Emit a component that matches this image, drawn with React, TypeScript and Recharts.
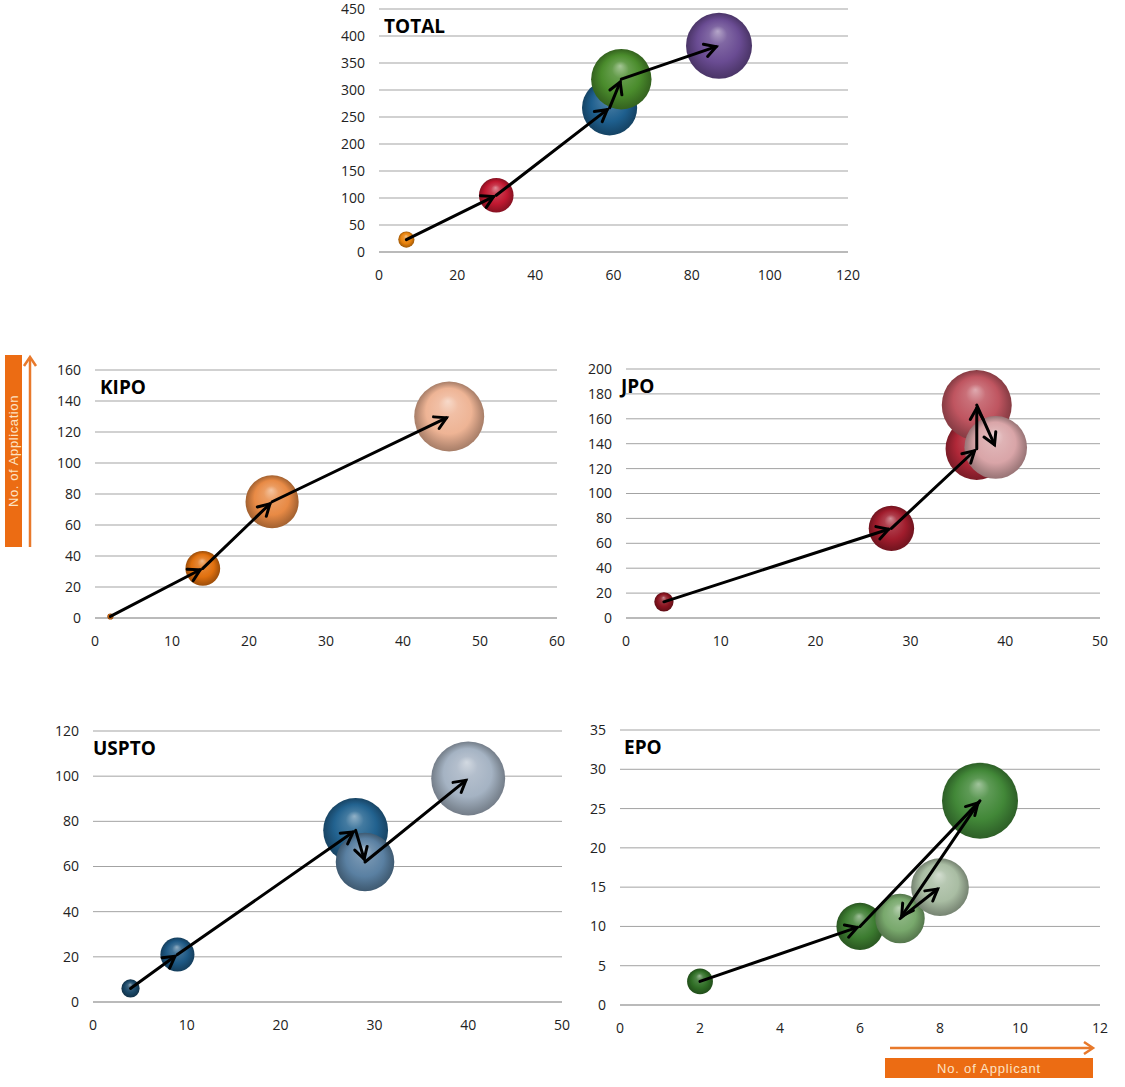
import React from 'react';
import { ScatterChart, Scatter, XAxis, YAxis, ZAxis, CartesianGrid, ReferenceLine, Cell } from 'recharts';

// values: x = No. of Applicant, y = No. of Application (bubble size = y)
const TOTAL_X = [7, 30, 59, 62, 87];
const TOTAL_Y = [23, 105, 267, 320, 382];
const KIPO_X = [2, 14, 23, 46];
const KIPO_Y = [1, 32, 75, 130];
const JPO_X = [4, 28, 37, 37, 39];
const JPO_Y = [13, 72, 136, 171, 137];
const USPTO_X = [4, 9, 28, 29, 40];
const USPTO_Y = [6, 21, 76, 62, 99];
const EPO_X = [2, 6, 9, 7, 8];
const EPO_Y = [3, 10, 26, 11, 15];

const TOTAL_XTICKS = [0, 20, 40, 60, 80, 100, 120];
const TOTAL_YTICKS = [0, 50, 100, 150, 200, 250, 300, 350, 400, 450];
const KIPO_XTICKS = [0, 10, 20, 30, 40, 50, 60];
const KIPO_YTICKS = [0, 20, 40, 60, 80, 100, 120, 140, 160];
const JPO_XTICKS = [0, 10, 20, 30, 40, 50];
const JPO_YTICKS = [0, 20, 40, 60, 80, 100, 120, 140, 160, 180, 200];
const USPTO_XTICKS = [0, 10, 20, 30, 40, 50];
const USPTO_YTICKS = [0, 20, 40, 60, 80, 100, 120];
const EPO_XTICKS = [0, 2, 4, 6, 8, 10, 12];
const EPO_YTICKS = [0, 5, 10, 15, 20, 25, 30, 35];

const YW = 60;
const MT = 10;
const MR = 24;
const XH = 40;
const GRID = '#a3a3a3';
const FONT = '"Open Sans", "Noto Sans", sans-serif';

const PANELS = [
    {
        id: 'total', title: 'TOTAL', xs: TOTAL_X, ys: TOTAL_Y, xTicks: TOTAL_XTICKS, yTicks: TOTAL_YTICKS,
        colors: ['#E8820C', '#C01830', '#1E5F8E', '#4A8C2C', '#6A4C93'],
        rMax: 33, box: { left: 379, top: 9, width: 469, height: 243 }, titleDx: 5,
    },
    {
        id: 'kipo', title: 'KIPO', xs: KIPO_X, ys: KIPO_Y, xTicks: KIPO_XTICKS, yTicks: KIPO_YTICKS,
        colors: ['#C8600A', '#E0700E', '#E88A45', '#EEB495'],
        rMax: 35, box: { left: 95, top: 370, width: 462, height: 248 }, titleDx: 5,
    },
    {
        id: 'jpo', title: 'JPO', xs: JPO_X, ys: JPO_Y, xTicks: JPO_XTICKS, yTicks: JPO_YTICKS,
        colors: ['#8A1420', '#A01C2C', '#B02838', '#BF5560', '#D9A5A8'],
        rMax: 35, box: { left: 626, top: 369, width: 474, height: 249 }, titleDx: -5,
    },
    {
        id: 'uspto', title: 'USPTO', xs: USPTO_X, ys: USPTO_Y, xTicks: USPTO_XTICKS, yTicks: USPTO_YTICKS,
        colors: ['#1A4868', '#1D5884', '#22628F', '#5A80A2', '#A5B3C3'],
        rMax: 37, box: { left: 93, top: 731, width: 469, height: 271 }, titleDx: 0,
    },
    {
        id: 'epo', title: 'EPO', xs: EPO_X, ys: EPO_Y, xTicks: EPO_XTICKS, yTicks: EPO_YTICKS,
        colors: ['#2F6E25', '#3C7C30', '#428838', '#78A86C', '#A9BDA3'],
        rMax: 38, box: { left: 620, top: 730, width: 480, height: 275 }, titleDx: 4,
    },
];

const mix = (hex: string, target: number, t: number) => {
    const n = parseInt(hex.slice(1), 16);
    const ch = [(n >> 16) & 255, (n >> 8) & 255, n & 255].map((c) => Math.round(c + (target - c) * t));
    return `rgb(${ch[0]},${ch[1]},${ch[2]})`;
};

// arrow drawn between two consecutive bubbles
const arrowShape = (p: any) => {
    const { x1, y1, x2, y2 } = p;
    const dx = x2 - x1;
    const dy = y2 - y1;
    const len = Math.hypot(dx, dy) || 1;
    const ux = dx / len;
    const uy = dy / len;
    const ex = x2 - ux * 3;
    const ey = y2 - uy * 3;
    const h = 13;
    const a = 0.52;
    const c = Math.cos(a);
    const s = Math.sin(a);
    const bx = -ux;
    const by = -uy;
    const l1x = ex + h * (bx * c - by * s);
    const l1y = ey + h * (bx * s + by * c);
    const l2x = ex + h * (bx * c + by * s);
    const l2y = ey + h * (-bx * s + by * c);
    return (
        <g>
            <line x1={x1} y1={y1} x2={ex} y2={ey} stroke="#000" strokeWidth={3} strokeLinecap="round" />
            <polyline points={`${l1x},${l1y} ${ex},${ey} ${l2x},${l2y}`} fill="none" stroke="#000" strokeWidth={3} strokeLinecap="round" strokeLinejoin="miter" />
        </g>
    );
};

const tickStyle = { fill: '#222', fontSize: 14, fontFamily: FONT };

const Panel = ({ id, title, xs, ys, xTicks, yTicks, rMax, box, titleDx }: any) => {
    const data = xs.map((x: number, i: number) => ({ x, y: ys[i] }));
    const yMax = Math.max(...ys);
    const segments = data.slice(1).map((d: any, i: number) => [data[i], d]);
    return (
        <div style={{ position: 'absolute', left: box.left - YW, top: box.top - MT }}>
            <ScatterChart
                width={YW + box.width + MR}
                height={MT + box.height + XH}
                margin={{ top: MT, right: MR, bottom: 0, left: 0 }}
            >
                <CartesianGrid vertical={false} stroke={GRID} />
                <XAxis
                    type="number"
                    dataKey="x"
                    domain={[xTicks[0], xTicks[xTicks.length - 1]]}
                    ticks={xTicks}
                    interval={0}
                    tickLine={false}
                    tickSize={0}
                    tickMargin={18}
                    axisLine={{ stroke: GRID }}
                    tick={tickStyle}
                    height={XH}
                />
                <YAxis
                    type="number"
                    dataKey="y"
                    domain={[yTicks[0], yTicks[yTicks.length - 1]]}
                    ticks={yTicks}
                    interval={0}
                    tickLine={false}
                    tickSize={0}
                    tickMargin={14}
                    axisLine={false}
                    tick={tickStyle}
                    width={YW}
                />
                <ZAxis type="number" dataKey="y" domain={[0, yMax]} range={[0, Math.PI * rMax * rMax]} />
                <Scatter data={data} isAnimationActive={false}>
                    {data.map((_: any, i: number) => (
                        <Cell key={i} fill={`url(#${id}-${i})`} />
                    ))}
                </Scatter>
                {segments.map(([a, b]: any, i: number) => (
                    <ReferenceLine
                        key={i}
                        segment={[{ x: a.x, y: a.y }, { x: b.x, y: b.y }]}
                        ifOverflow="visible"
                        shape={arrowShape}
                        zIndex={700}
                    />
                ))}
            </ScatterChart>
            <div
                style={{
                    position: 'absolute',
                    left: YW + titleDx,
                    top: MT + 7,
                    fontFamily: FONT,
                    fontWeight: 700,
                    fontSize: 19,
                    lineHeight: '20px',
                    color: '#000',
                }}
            >
                {title}
            </div>
        </div>
    );
};

const ORANGE = '#EC6C13';
const ORANGE_LINE = '#E8792B';

export default function App() {
    return (
        <div style={{ position: 'absolute', left: 0, top: 0, width: 1125, height: 1087, background: '#fff' }}>
            <svg width={0} height={0} style={{ position: 'absolute' }}>
                <defs>
                    {PANELS.flatMap((p) =>
                        p.colors.map((c, i) => (
                            <radialGradient key={`${p.id}-${i}`} id={`${p.id}-${i}`} cx="50%" cy="50%" r="50%" fx="48%" fy="28%">
                                <stop offset="0%" stopColor={mix(c, 255, 0.5)} />
                                <stop offset="28%" stopColor={mix(c, 255, 0.15)} />
                                <stop offset="65%" stopColor={c} />
                                <stop offset="90%" stopColor={mix(c, 0, 0.22)} />
                                <stop offset="100%" stopColor={mix(c, 0, 0.3)} />
                            </radialGradient>
                        ))
                    )}
                </defs>
            </svg>

            <svg width={1125} height={1087} style={{ position: 'absolute', left: 0, top: 0 }}>
                {/* vertical axis label */}
                <rect x={5} y={355} width={17} height={192} fill={ORANGE} />
                <text
                    x={13.5}
                    y={451}
                    transform="rotate(-90 13.5 451)"
                    textAnchor="middle"
                    dominantBaseline="central"
                    fill="#FDE3C4"
                    fontSize={13}
                    letterSpacing={0.6}
                    fontFamily='"Liberation Sans", sans-serif'
                >
                    No. of Application
                </text>
                <line x1={30} y1={547} x2={30} y2={358} stroke={ORANGE_LINE} strokeWidth={2.5} />
                <polyline points="24,366 30,357 36,366" fill="none" stroke={ORANGE_LINE} strokeWidth={2.5} />

                {/* horizontal axis label */}
                <line x1={890} y1={1048} x2={1092} y2={1048} stroke={ORANGE_LINE} strokeWidth={2.5} />
                <polyline points="1084,1042 1093,1048 1084,1054" fill="none" stroke={ORANGE_LINE} strokeWidth={2.5} />
                <rect x={885} y={1058} width={208} height={20} fill={ORANGE} />
                <text
                    x={989}
                    y={1068}
                    textAnchor="middle"
                    dominantBaseline="central"
                    fill="#FDE3C4"
                    fontSize={13}
                    letterSpacing={0.8}
                    fontFamily='"Liberation Sans", sans-serif'
                >
                    No. of Applicant
                </text>
            </svg>

            {PANELS.map((p) => (
                <Panel key={p.id} {...p} />
            ))}
        </div>
    );
}
